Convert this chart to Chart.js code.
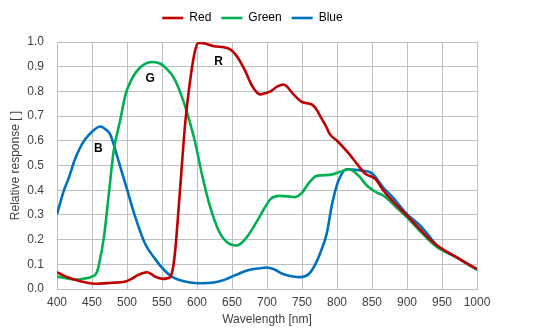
<!DOCTYPE html>
<html>
<head>
<meta charset="utf-8">
<script src="https://cdn.jsdelivr.net/npm/chart.js@4/dist/chart.umd.min.js"></script>
<style>
html,body{margin:0;padding:0;background:#fff;}
canvas{display:block;}
</style>
</head>
<body>
<canvas id="c" width="554" height="331"></canvas>
<script>
const redWl   = [400,413,426,440,455,478,498,506,514,522,529,535,540,552,557,562,566,569,576,583,590,597,602,609,624,643,650,657,669,679,690,697,705,715,724,730,736,750,764,770,776,784,790,800,805,817,829,840,855,866,880,900,919,943,971,1000];
const redVal  = [0.068,0.05,0.037,0.027,0.021,0.025,0.03,0.04,0.054,0.064,0.068,0.06,0.05,0.041,0.043,0.05,0.09,0.16,0.41,0.667,0.84,0.962,0.996,0.995,0.983,0.976,0.965,0.942,0.882,0.821,0.788,0.792,0.80,0.82,0.828,0.815,0.794,0.757,0.747,0.73,0.70,0.66,0.626,0.60,0.586,0.548,0.505,0.468,0.445,0.40,0.355,0.297,0.24,0.176,0.128,0.08];

const greenWl  = [400,413,426,440,450,457,460,467,474,481,490,498,505,514,525,536,548,557,567,579,588,598,607,619,631,643,657,671,686,697,705,717,730,740,750,760,771,790,808,817,831,843,857,867,885,900,920,943,971,1000];
const greenVal = [0.05,0.044,0.038,0.043,0.05,0.068,0.10,0.209,0.384,0.559,0.68,0.788,0.84,0.882,0.91,0.919,0.912,0.89,0.855,0.774,0.693,0.586,0.465,0.33,0.236,0.189,0.176,0.209,0.276,0.33,0.364,0.377,0.375,0.372,0.39,0.43,0.458,0.462,0.478,0.485,0.458,0.418,0.39,0.377,0.33,0.29,0.23,0.169,0.128,0.077];

const blueWl  = [400,410,417,425,433,440,450,462,470,476,488,500,512,526,540,552,564,576,588,602,615,626,640,650,662,674,690,700,710,721,735,748,760,769,778,785,793,802,814,831,850,866,880,900,919,930,943,950,971,985,1000];
const blueVal = [0.303,0.40,0.451,0.52,0.572,0.605,0.637,0.658,0.645,0.626,0.518,0.404,0.29,0.182,0.122,0.08,0.05,0.035,0.027,0.023,0.024,0.027,0.038,0.05,0.065,0.077,0.084,0.087,0.08,0.063,0.052,0.048,0.062,0.10,0.16,0.22,0.344,0.438,0.485,0.481,0.468,0.411,0.37,0.303,0.256,0.22,0.176,0.162,0.128,0.104,0.081];

const seriesNames = ['Red','Green','Blue'];
const seriesColors = ['#C00000','#00B050','#0070C0'];
const curveLetters = ['R','G','B'];
const letterWl  = [631,533,459];
const letterVal = [0.92,0.85,0.57];

const xTitle = 'Wavelength [nm]';
const yTitle = 'Relative response [ ]';

function pts(xs, ys){ return xs.map((x,i)=>({x:x,y:ys[i]})); }
const allData = [pts(redWl,redVal), pts(greenWl,greenVal), pts(blueWl,blueVal)];

const letterPlugin = {
  id:'letters',
  beforeLayout(chart){
    const lg = chart.legend;
    if (lg && !lg._patched) {
      const origFit = lg.fit.bind(lg);
      lg.fit = function(){ origFit(); this.height += 10; };
      const origDraw = lg.draw.bind(lg);
      lg.draw = function(){
        const c = chart.ctx; c.save(); c.translate(14, 2); origDraw(); c.restore();
      };
      lg._patched = true;
    }
  },
  afterDatasetsDraw(chart){
    const ctx = chart.ctx, xs = chart.scales.x, ys = chart.scales.y;
    ctx.save();
    ctx.font = 'bold 12px "Liberation Sans", Arial, sans-serif';
    ctx.fillStyle = '#000';
    ctx.textAlign = 'center';
    ctx.textBaseline = 'middle';
    curveLetters.forEach((t,i)=>{
      ctx.fillText(t, xs.getPixelForValue(letterWl[i]), ys.getPixelForValue(letterVal[i]));
    });
    ctx.restore();
  }
};

const gridColor = '#BFBFBF';
const textColor = '#404040';
const fontFam = '"Liberation Sans", Arial, sans-serif';

new Chart(document.getElementById('c'), {
  type:'line',
  data:{
    datasets: seriesNames.map((n,i)=>({
      label:n,
      data: allData[i],
      borderColor: seriesColors[i],
      backgroundColor: seriesColors[i],
      borderWidth: 2.6,
      pointRadius: 0,
      fill:false,
      tension:0.4,
      cubicInterpolationMode:'monotone'
    }))
  },
  options:{
    responsive:false,
    animation:false,
    layout:{padding:{left:0,right:77,top:0,bottom:0}},
    plugins:{
      legend:{
        position:'top',
        labels:{
          usePointStyle:true,
          pointStyle:'line',
          pointStyleWidth:21,
          boxHeight:12,
          padding:10,
          color:'#000',
          font:{family:fontFam,size:12}
        }
      },
      tooltip:{enabled:false}
    },
    scales:{
      x:{
        type:'linear',
        min:400,max:1000,
        ticks:{stepSize:50,color:textColor,font:{family:fontFam,size:12},padding:6,maxRotation:0,callback:v=>String(v)},
        grid:{color:gridColor,lineWidth:1,drawTicks:false},
        border:{color:gridColor},
        title:{display:true,text:xTitle,color:textColor,font:{family:fontFam,size:12},padding:{top:4,bottom:4}},
        afterFit(s){ s.height = 42; }
      },
      y:{
        min:0,max:1,
        ticks:{stepSize:0.1,color:textColor,font:{family:fontFam,size:12},padding:13,callback:v=>Number(v).toFixed(1)},
        grid:{color:gridColor,lineWidth:1,drawTicks:false},
        border:{color:gridColor},
        title:{display:true,text:yTitle,color:textColor,font:{family:fontFam,size:12},padding:{top:8,bottom:4}},
        afterFit(s){ s.width = 57; }
      }
    }
  },
  plugins:[letterPlugin]
});
</script>
</body>
</html>
